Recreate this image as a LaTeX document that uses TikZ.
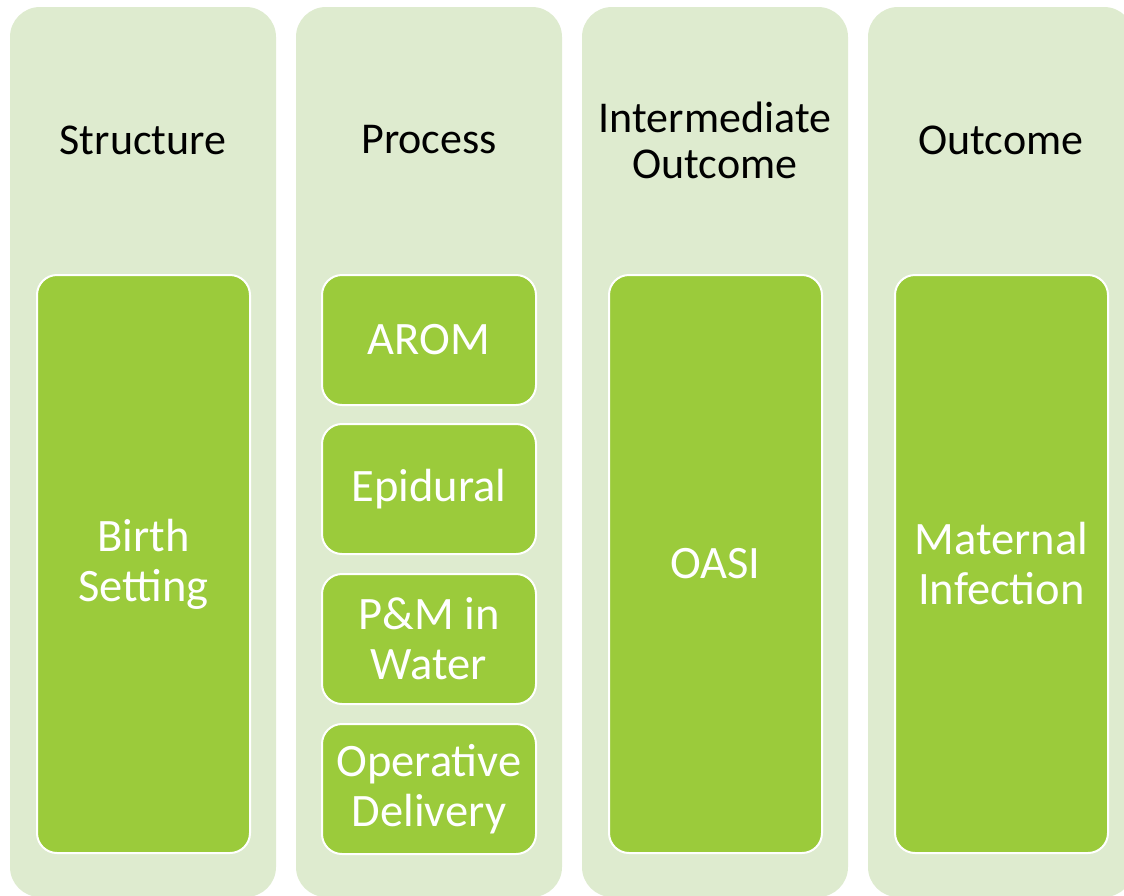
\documentclass[tikz,border=0pt]{standalone}
\usepackage{fontspec}
\setmainfont{Carlito}
\definecolor{lightg}{RGB}{222,235,207}
\definecolor{darkg}{RGB}{155,203,59}
\begin{document}
\begin{tikzpicture}[x=1pt,y=-1pt,
  col/.style={fill=lightg, draw=none, rounded corners=30pt, minimum width=266pt, minimum height=890pt, inner sep=0pt},
  inbox/.style={fill=darkg, draw=white, line width=2pt, rounded corners=20pt, inner sep=0pt, text=white, align=center, font=\fontsize{46.5}{50}\selectfont},
  head/.style={text=black, align=center, font=\fontsize{44}{46}\selectfont, inner sep=0pt}]
\useasboundingbox (0,0) rectangle (1124,895);
\begin{scope}
\clip (0,0) rectangle (1124,895);
\node[col] (c1) at (143,452) {};
\node[col] (c2) at (429,452) {};
\node[col] (c3) at (715,452) {};
\node[col] (c4) at (1001,452) {};
\end{scope}
\node[head] (h1) at (143,140) {Structure};
\node[head] (h2) at (429,140) {Process};
\node[head] (h3) at (715,140) {Intermediate\\Outcome};
\node[head] (h4) at (1001,140) {Outcome};
\node[inbox, minimum width=213pt, minimum height=578pt] (b1) at (143.5,564) {Birth\\Setting};
\node[inbox, minimum width=214pt, minimum height=130pt] (p1) at (429,340) {AROM};
\node[inbox, minimum width=214pt, minimum height=130pt] (p2) at (429,489) {Epidural};
\node[inbox, minimum width=214pt, minimum height=130pt] (p3) at (429,639) {P\&M in\\Water};
\node[inbox, minimum width=214pt, minimum height=130pt] (p4) at (429,789) {Operative\\Delivery};
\node[inbox, minimum width=213pt, minimum height=578pt] (b3) at (715.5,564) {OASI};
\node[inbox, minimum width=213pt, minimum height=578pt] (b4) at (1001.5,564) {Maternal\\Infection};
\end{tikzpicture}
\end{document}
